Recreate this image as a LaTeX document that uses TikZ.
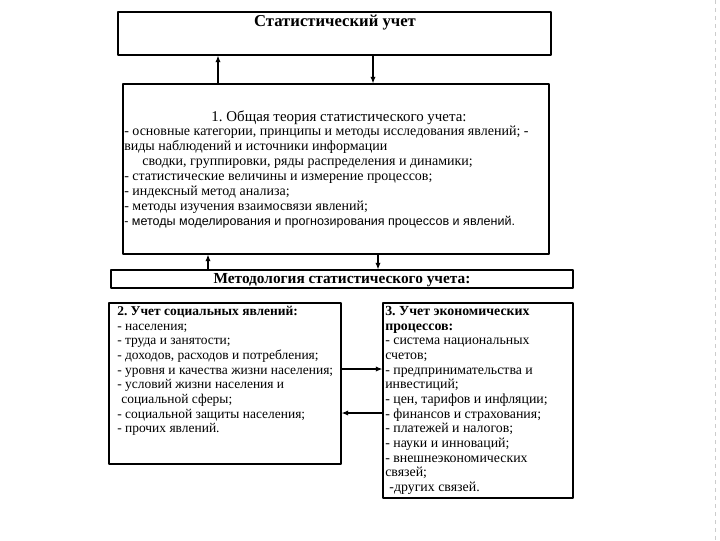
\documentclass[tikz,border=0pt]{standalone}
\usepackage{fontspec}
\setmainfont{Liberation Serif}
\newfontfamily\sansfont{Liberation Sans}
\usetikzlibrary{fit,arrows.meta}
\frenchspacing

\begin{document}
\begin{tikzpicture}[x=0.75pt, y=-0.75pt, line join=round, >={Latex[length=5pt,width=4pt]},
	box/.style={draw, line width=0.8pt, inner sep=0pt, fit={#1}},
	body/.style={inner sep=0pt, anchor=north west, align=left, font=\fontsize{10.4}{11}\selectfont},
	arr/.style={->, line width=0.9pt}]
	\useasboundingbox (0,0) rectangle (720,540);
	% рамки
	\node[box={(118,12) (551,55)}] (stat) {};
	\node[box={(123,84) (549,254)}] (theory) {};
	\node[box={(111,270) (573,288)}] (method) {};
	\node[box={(109,303) (341,464)}] (social) {};
	\node[box={(383,303) (573,498)}] (econ) {};
	% заголовки
	\node[anchor=base, inner sep=0pt, font=\fontsize{12.5}{14}\bfseries] (stattitle) at (335,26) {Статистический учет};
	\node[anchor=base, inner sep=0pt, font=\fontsize{11.2}{13}\selectfont] (theorytitle) at (339,121) {1. Общая теория статистического учета:};
	\node[anchor=base, inner sep=0pt, font=\fontsize{11.5}{13}\bfseries] (methodtitle) at (342,283) {Методология статистического учета:};
	% тексты (верх = базовая линия - \strut)
	\node[body, font=\fontsize{10.5}{11.2}\selectfont] (theorytext) at (124,125) {\strut- основные категории, принципы и методы исследования явлений; -\\
		виды наблюдений и источники информации\\
		\hspace*{1.3em}сводки, группировки, ряды распределения и динамики;\\
		- статистические величины и измерение процессов;\\
		- индексный метод анализа;\\
		- методы изучения взаимосвязи явлений;\\
		{\sansfont\fontsize{9.4}{11}\selectfont - методы моделирования и прогнозирования процессов и явлений.}};
	\node[body, font=\fontsize{10.1}{11}\selectfont] (socialtext) at (117,305) {\strut\textbf{2. Учет социальных явлений:}\\
		- населения;\\
		- труда и занятости;\\
		- доходов, расходов и потребления;\\
		- уровня и качества жизни населения;\\
		- условий жизни населения и\\
		\hspace*{0.3em}социальной сферы;\\
		- социальной защиты населения;\\
		- прочих явлений.};
	\node[body] (econtext) at (385,305) {\strut\textbf{3. Учет экономических}\\
		\textbf{процессов:}\\
		- система национальных\\
		счетов;\\
		- предпринимательства и\\
		инвестиций;\\
		- цен, тарифов и инфляции;\\
		- финансов и страхования;\\
		- платежей и налогов;\\
		- науки и инноваций;\\
		- внешнеэкономических\\
		связей;\\
		\hspace*{0.3em}-других связей.};
	% стрелки
	\draw[arr] (theory.north -| 218,0) -- (stat.south -| 218,0);
	\draw[arr] (stat.south -| 373,0) -- (theory.north -| 373,0);
	\draw[arr] (method.north -| 208,0) -- (theory.south -| 208,0);
	\draw[arr] (theory.south -| 378,0) -- (method.north -| 378,0);
	\draw[arr] (social.east |- 0,369) -- (econ.west |- 0,369);
	\draw[arr] (econ.west |- 0,413) -- (social.east |- 0,413);
	% край страницы
	\draw[gray!40, dashed] (715,0) -- (715,540);
\end{tikzpicture}
\end{document}
